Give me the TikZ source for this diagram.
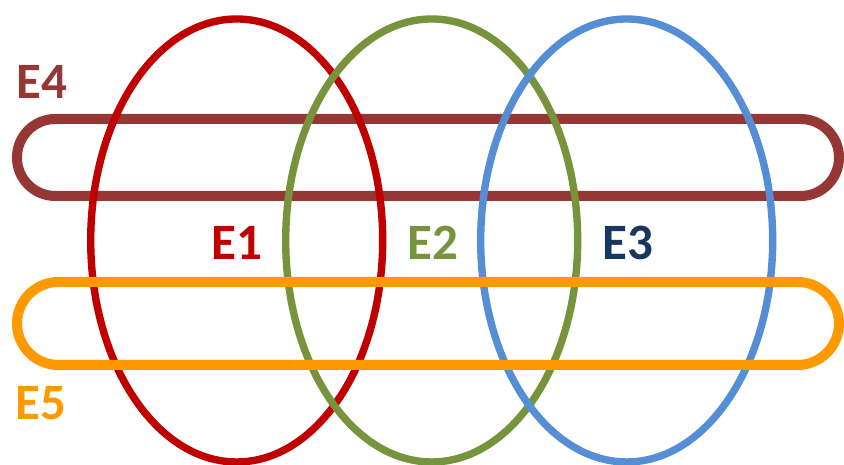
\documentclass[tikz,border=0pt]{standalone}
\usepackage{fontspec}
\setmainfont{Carlito}
\usepackage{tikz}

\definecolor{eone}{HTML}{C00000}
\definecolor{etwo}{HTML}{77933C}
\definecolor{ethree}{HTML}{558ED5}
\definecolor{efour}{HTML}{953735}
\definecolor{efive}{HTML}{FF9900}
\definecolor{ethreetext}{HTML}{17375E}

\begin{document}
\begin{tikzpicture}[x=0.01cm,y=-0.01cm,
  edge/.style={line width=2.1pt},
  band/.style={line width=2.85pt},
  lbl/.style={font=\fontsize{14.5}{17}\selectfont\bfseries,inner sep=0pt}]

\useasboundingbox (0,0) rectangle (844,465);

% E4 lies under the ellipses
\draw[band,efour,rounded corners=10.9pt] (17,119) rectangle (839,196);

\draw[edge,eone] (236.7,240.5) ellipse [x radius=146,y radius=221.5];
\draw[edge,etwo] (431.7,240.5) ellipse [x radius=146,y radius=221.5];
\draw[edge,ethree] (626.7,240.5) ellipse [x radius=146,y radius=221.5];

% E5 on top
\draw[band,efive,rounded corners=11.8pt] (17,282) rectangle (839,365);

\node[lbl,eone] (lone) at (236.5,242.5) {E1};
\node[lbl,etwo] (ltwo) at (432.5,242.5) {E2};
\node[lbl,ethreetext] (lthree) at (627.5,242.5) {E3};
\node[lbl,efour] (lfour) at (41.5,82) {E4};
\node[lbl,efive] (lfive) at (40.5,403.5) {E5};

\end{tikzpicture}
\end{document}
